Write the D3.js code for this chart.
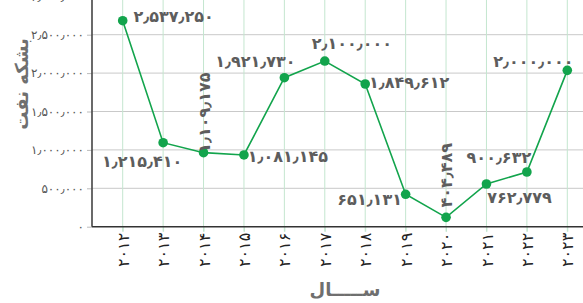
<!DOCTYPE html>
<html><head><meta charset="utf-8">
<script src="https://cdn.jsdelivr.net/npm/d3@7"></script>
<style>
html,body{margin:0;padding:0;background:#fff;overflow:hidden;}
svg{display:block;font-family:"DejaVu Sans",sans-serif;}
</style></head>
<body><svg id="c" width="583" height="303"></svg>
<script>
// ---- data ----
const years = ["2012","2013","2014","2015","2016","2017","2018","2019","2020","2021","2022","2023"];
// plotted values (read from point positions)
const plotted = [2682000,1094000,964000,934000,1940000,2157000,1858000,422000,122000,556000,712000,2036000];
// data labels as printed on the chart
const labelValues = [2537250,1215410,1109175,1081145,1921730,2100000,1849612,651131,404489,762779,900632,2000000];
const yTicks = [0,500000,1000000,1500000,2000000,2500000,3000000];
const yTitle = "بشکه نفت";
const xTitle = "ســـــال";
// label placement (offset of label centre from point), layout only
const labelPlace = [
  {dx:51,dy:-4,rot:false},{dx:-21,dy:19,rot:false},{dx:1,dy:-40,rot:true},{dx:44,dy:2,rot:false},
  {dx:-29,dy:-16,rot:false},{dx:27,dy:-18,rot:false},{dx:44,dy:-2,rot:false},{dx:-36,dy:5,rot:false},
  {dx:0,dy:-42,rot:true},{dx:33,dy:14,rot:false},{dx:-28,dy:-15,rot:false},{dx:-34,dy:-9,rot:false}
];

const fa = "۰۱۲۳۴۵۶۷۸۹";
const toFa = s => String(s).replace(/[0-9]/g, d => fa[+d]);
const fmt = v => toFa(d3.format(",")(v)).replace(/,/g, "٫");

const svg = d3.select("#c");
const axX = 92, axY = 226.7;
const x = d3.scalePoint().domain(years).range([122.7, 567.3]);
const y = d3.scaleLinear().domain([0, 3000000]).range([axY, -3.7]);
const green = "#12a44c";

// horizontal grid
svg.append("g").selectAll("line").data(yTicks.filter(d=>d>0)).join("line")
  .attr("x1", axX).attr("x2", 583).attr("y1", d=>y(d)).attr("y2", d=>y(d))
  .attr("stroke", "#c9c9c9").attr("stroke-width", 1);
// vertical grid
svg.append("g").selectAll("line").data(years).join("line")
  .attr("x1", d=>x(d)).attr("x2", d=>x(d)).attr("y1", 0).attr("y2", axY+5)
  .attr("stroke", "#c4e6cf").attr("stroke-width", 1);

// y axis
const yAxis = d3.axisLeft(y).tickValues(yTicks).tickSize(5).tickPadding(3).tickFormat(fmt);
const gy = svg.append("g").attr("transform", `translate(${axX},0)`).call(yAxis);
gy.select(".domain").remove();
gy.selectAll(".tick line").attr("stroke", "#bbb");
gy.selectAll(".tick text").attr("fill", "#555").style("font-size", "12px").style("font-family", "DejaVu Sans");
svg.append("line").attr("x1", axX).attr("x2", axX).attr("y1", 0).attr("y2", axY)
  .attr("stroke", "#444").attr("stroke-width", 1.6);

// x axis
const xAxis = d3.axisBottom(x).tickSize(5).tickPadding(4).tickFormat(d=>toFa(d));
const gx = svg.append("g").attr("transform", `translate(0,${axY})`).call(xAxis);
gx.select(".domain").remove();
gx.selectAll(".tick line").attr("stroke", "#c4e6cf");
gx.selectAll(".tick text").attr("fill", "#222").style("font-size", "16px").style("font-family", "DejaVu Sans")
  .attr("transform", "rotate(-90)").attr("text-anchor", "end").attr("x", -6).attr("y", 0).attr("dy", "0.35em");
svg.append("line").attr("x1", axX).attr("x2", 583).attr("y1", axY).attr("y2", axY)
  .attr("stroke", "#333").attr("stroke-width", 1.6);

// line
const pts = years.map((yr,i)=>({yr, v:plotted[i], lab:labelValues[i], p:labelPlace[i]}));
svg.append("path").datum(pts)
  .attr("d", d3.line().x(d=>x(d.yr)).y(d=>y(d.v)))
  .attr("fill", "none").attr("stroke", green).attr("stroke-width", 1.6);
svg.append("g").selectAll("circle").data(pts).join("circle")
  .attr("cx", d=>x(d.yr)).attr("cy", d=>y(d.v)).attr("r", 4.8).attr("fill", green);

// data labels
svg.append("g").selectAll("text").data(pts).join("text")
  .attr("transform", d=>{
    const cx = x(d.yr)+d.p.dx, cy = y(d.v)+d.p.dy;
    return `translate(${cx},${cy})` + (d.p.rot ? " rotate(-90)" : "");
  })
  .attr("text-anchor", "middle").attr("dominant-baseline", "central")
  .attr("fill", "#5d5d5d").style("font-size", "16px").style("font-weight", "bold")
  .text(d=>fmt(d.lab));

// titles
svg.append("text").attr("transform", "translate(21,84) rotate(-90)")
  .attr("text-anchor", "middle").attr("dominant-baseline", "central")
  .attr("fill", "#6f6f6f").style("font-size", "18px").style("font-weight", "bold").text(yTitle);
svg.append("text").attr("x", 345).attr("y", 290).attr("text-anchor", "middle").attr("dy", "0.35em")
  .attr("fill", "#6f6f6f").style("font-size", "18px").style("font-weight", "bold").text(xTitle);
</script></body></html>
